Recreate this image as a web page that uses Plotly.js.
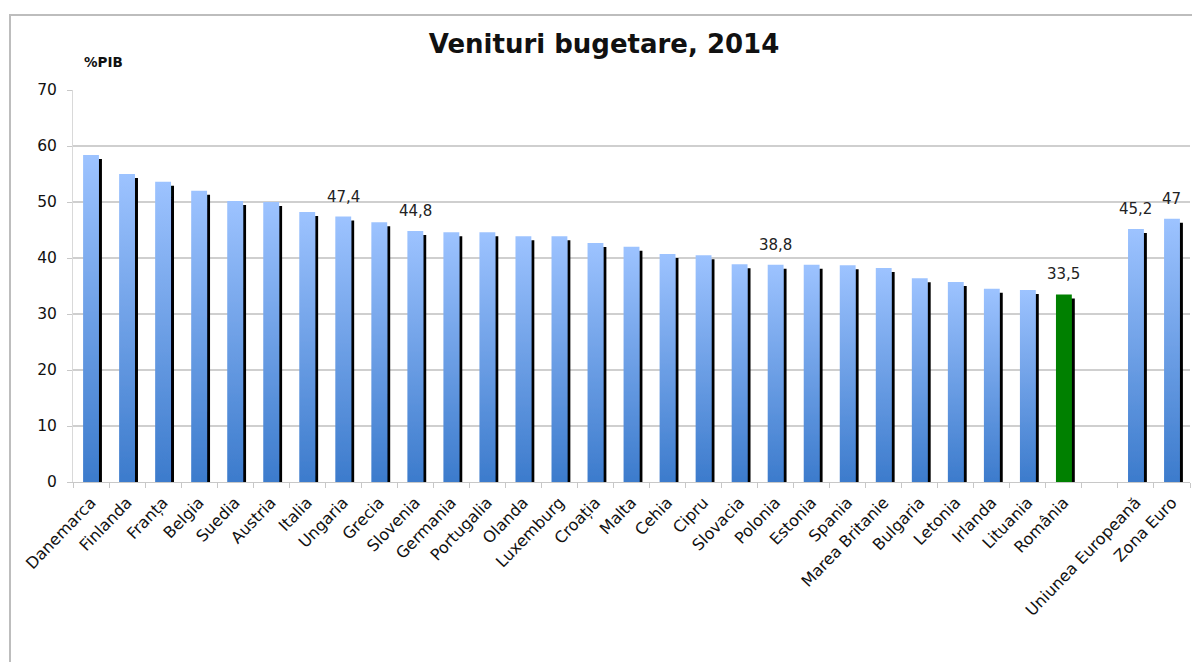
<!DOCTYPE html>
<html>
<head>
<meta charset="utf-8">
<script src="https://cdn.plot.ly/plotly-3.0.1.min.js"></script>
<style>
  body { margin: 0; background: #fff; }
  #wrap { position: relative; width: 1192px; height: 662px; }
  #frame { position: absolute; left: 9px; top: 14px; right: -4px; bottom: -4px;
           border-top: 2px solid #bdbdbd; border-left: 2px solid #bdbdbd; pointer-events: none; }
</style>
</head>
<body>
<div id="wrap">
  <div id="chart" style="width:1192px;height:662px;"></div>
  <div id="frame"></div>
</div>
<script>
// categories, in chart order (one empty slot before the EU aggregates)
var countries = ["Danemarca", "Finlanda", "Franța", "Belgia", "Suedia", "Austria", "Italia",
  "Ungaria", "Grecia", "Slovenia", "Germania", "Portugalia", "Olanda", "Luxemburg", "Croația",
  "Malta", "Cehia", "Cipru", "Slovacia", "Polonia", "Estonia", "Spania", "Marea Britanie",
  "Bulgaria", "Letonia", "Irlanda", "Lituania", "România", " ", "Uniunea Europeană", "Zona Euro"];

// venituri bugetare, % PIB (2014)
var revenues = [58.4, 55.0, 53.6, 52.0, 50.2, 50.0, 48.2,
  47.4, 46.4, 44.8, 44.6, 44.6, 43.9, 43.9, 42.7,
  42.0, 40.7, 40.5, 38.9, 38.8, 38.8, 38.7, 38.2,
  36.4, 35.7, 34.5, 34.3, 33.5, null, 45.2, 47.0];

// bars that carry a value label
var labelled = ["Ungaria", "Slovenia", "Polonia", "România", "Uniunea Europeană", "Zona Euro"];

var highlight = "România";

var BLUE = "#5b8fdc";
var GREEN = "#008000";

var colors = countries.map(function (c) { return c === highlight ? GREEN : BLUE; });

var data = [{
  type: 'bar',
  x: countries,
  y: revenues,
  width: 0.44,
  marker: { color: colors, line: { width: 0 } },
  hoverinfo: 'x+y'
}];

var annotations = labelled.map(function (c) {
  var v = revenues[countries.indexOf(c)];
  return {
    x: c, y: v, xref: 'x', yref: 'y',
    text: String(v).replace('.', ','),
    showarrow: false, yanchor: 'bottom', yshift: 9,
    font: { family: 'DejaVu Sans', size: 15, color: '#222' }
  };
});
annotations.push({
  xref: 'paper', yref: 'paper', x: 0.008, y: 1.072,
  xanchor: 'left', yanchor: 'middle', showarrow: false,
  text: '<b>%PIB</b>',
  font: { family: 'DejaVu Sans', size: 13.5, color: '#111' }
});

var layout = {
  width: 1192, height: 662,
  margin: { l: 73, r: 2, t: 90, b: 180 },
  paper_bgcolor: '#fff', plot_bgcolor: '#fff',
  showlegend: false,
  font: { family: 'DejaVu Sans', size: 15, color: '#111' },
  title: {
    text: '<b>Venituri bugetare, 2014</b>',
    x: 604 / 1192, xanchor: 'center', xref: 'container',
    y: 1 - 44 / 662, yanchor: 'middle', yref: 'container',
    font: { family: 'DejaVu Sans', size: 26, color: '#111' }
  },
  xaxis: {
    type: 'category',
    tickangle: -46,
    ticks: 'outside', tickson: 'boundaries', ticklen: 5,
    tickcolor: '#c8c8c8', tickwidth: 1,
    showline: true, linecolor: '#c8c8c8', linewidth: 1,
    showgrid: false,
    ticklabelstandoff: 4,
    tickfont: { family: 'DejaVu Sans', size: 16, color: '#111' },
    fixedrange: true
  },
  yaxis: {
    range: [0, 70], dtick: 10, tick0: 0,
    ticks: 'outside', ticklen: 5, tickcolor: '#c8c8c8',
    showline: true, linecolor: '#d9d9d9', linewidth: 1,
    gridcolor: '#cfcfcf', gridwidth: 2,
    zeroline: false,
    ticklabelstandoff: 7,
    tickfont: { family: 'DejaVu Sans', size: 15.5, color: '#111' },
    fixedrange: true
  },
  annotations: annotations
};

Plotly.newPlot('chart', data, layout, { displayModeBar: false, staticPlot: true }).then(function (gd) {
  // Excel-style look: vertical gradient fill and hard drop shadow on the bars
  var svg = gd.querySelector('svg.main-svg');
  var ns = 'http://www.w3.org/2000/svg';
  var defs = svg.querySelector('defs') || svg.insertBefore(document.createElementNS(ns, 'defs'), svg.firstChild);
  defs.insertAdjacentHTML('beforeend',
    '<linearGradient id="barGrad" x1="0" y1="0" x2="0" y2="1">' +
      '<stop offset="0" stop-color="#9dc3ff"/>' +
      '<stop offset="1" stop-color="#3c7bcc"/>' +
    '</linearGradient>' +
    '<filter id="barShadow" x="-50%" y="-20%" width="200%" height="140%">' +
      '<feOffset in="SourceAlpha" dx="3" dy="4" result="off"/>' +
      '<feMerge><feMergeNode in="off"/><feMergeNode in="SourceGraphic"/></feMerge>' +
    '</filter>');
  var paths = gd.querySelectorAll('.barlayer .point path');
  paths.forEach(function (p) {
    var f = p.style.fill.replace(/\s/g, '');
    if (f !== 'rgb(0,128,0)') p.style.fill = 'url(#barGrad)';
    p.setAttribute('filter', 'url(#barShadow)');
  });
});
</script>
</body>
</html>
